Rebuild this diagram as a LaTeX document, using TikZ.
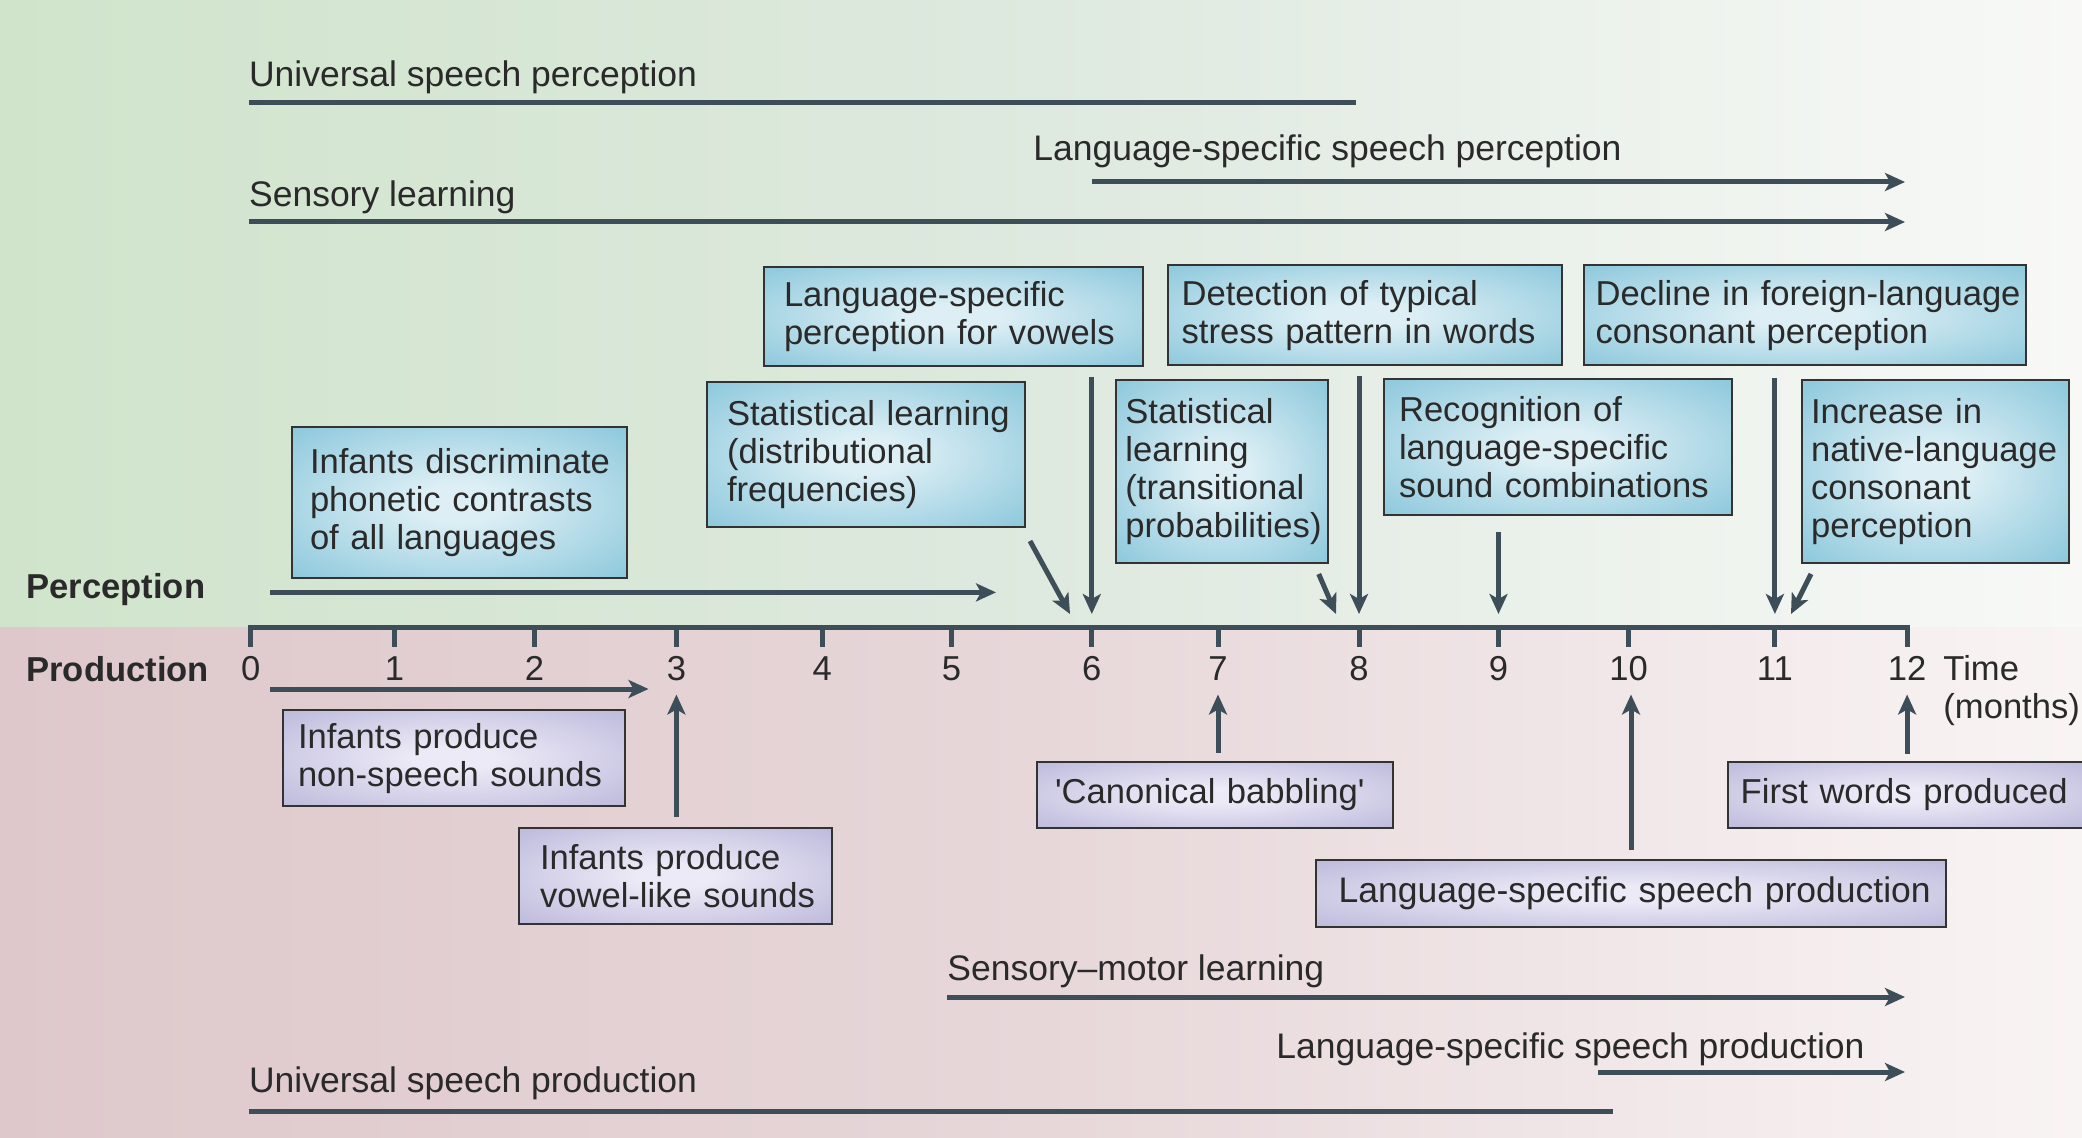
\documentclass[tikz,border=0pt]{standalone}
\usepackage{fontspec}
\setmainfont{Liberation Sans}
\usetikzlibrary{arrows.meta,calc}
\definecolor{ln}{HTML}{3E4E58}
\definecolor{txt}{HTML}{2A2A2A}
\definecolor{boxedge}{HTML}{333333}
\definecolor{bIn}{HTML}{DDEFF5}
\definecolor{bOut}{HTML}{80C2D8}
\definecolor{pIn}{HTML}{ECEAF6}
\definecolor{pOut}{HTML}{B6B2D8}
\definecolor{gL}{HTML}{D0E4CB}
\definecolor{gM}{HTML}{DEE9DF}
\definecolor{gR}{HTML}{F8F9F7}
\definecolor{rL}{HTML}{DEC8CB}
\definecolor{rM}{HTML}{E7D7D9}
\definecolor{rR}{HTML}{F9F4F4}
\pgfdeclareradialshading{blueshade}{\pgfpoint{0bp}{0bp}}{color(0bp)=(bIn); color(6bp)=(bIn); color(40bp)=(bOut); color(50bp)=(bOut)}
\pgfdeclareradialshading{purpleshade}{\pgfpoint{0bp}{0bp}}{color(0bp)=(pIn); color(6bp)=(pIn); color(40bp)=(pOut); color(50bp)=(pOut)}
\newcommand{\tline}[1]{\mbox{#1}}
\begin{document}
\begin{tikzpicture}[x=0.5pt,y=-0.5pt,
  every node/.style={text=txt},
  font=\fontsize{17.3}{19}\selectfont,
  box/.style={draw=boxedge, line width=1pt, shade, align=left, inner ysep=0pt},
  bluebox/.style={box, shading=blueshade},
  purplebox/.style={box, shading=purpleshade},
  lbl/.style={anchor=base west, inner sep=0pt},
  spanlbl/.style={lbl, font=\fontsize{17.75}{19}\selectfont},
  boldlbl/.style={lbl, font=\fontsize{17.3}{19}\selectfont\bfseries},
  ticklbl/.style={anchor=base, inner sep=0pt},
  bar/.style={draw=ln, line width=2.5pt},
  arr/.style={bar, -{Stealth[length=10pt,width=9pt,inset=2.5pt]}},
]
\useasboundingbox (0,0) rectangle (2082,1138);
% backgrounds
\shade[left color=gL, right color=gR, middle color=gM] (0,0) rectangle (2082,627);
\shade[left color=rL, right color=rR, middle color=rM] (0,627) rectangle (2082,1138);

% time axis
\foreach \n/\xx in {0/250.7,1/394.6,2/534.5,3/676.4,4/822.3,5/951.6,6/1091.8,7/1218,8/1359,9/1498.5,10/1628.7,11/1774.9,12/1907.1}{
  \coordinate (t\n) at (\xx,627);
  \node[ticklbl] (n\n) at (\xx,680) {\n};
}
\draw[bar, line join=miter] ($(t0)+(0,20)$) -- (t0) -- (t12) -- ($(t12)+(0,20)$);
\foreach \n in {1,...,11} \draw[bar] (t\n) -- ++(0,20);
\node[lbl] (time) at (1943,680) {Time};
\node[lbl] (months) at (1943,718) {(months)};

% side labels
\node[boldlbl] (perc) at (26,598) {Perception};
\node[boldlbl] (prod) at (26,681.7) {Production};
\coordinate (pa1) at (270,592.4);
\coordinate (pa2) at (996,592.4);
\draw[arr] (pa1) -- (pa2);
\coordinate (pr1) at (270,689);
\coordinate (pr2) at (648.5,689);
\draw[arr] (pr1) -- (pr2);

% top span lines
\node[spanlbl] (usp) at (248.7,87) {Universal speech perception};
\coordinate (usp1) at (248.7,103); \coordinate (usp2) at (1355.6,103);
\draw[bar] (usp1) -- (usp2);
\node[spanlbl] (lssp) at (1033,160.7) {Language-specific speech perception};
\coordinate (lssp1) at (1091.8,182); \coordinate (lssp2) at (1905,182);
\draw[arr] (lssp1) -- (lssp2);
\node[spanlbl] (sl) at (248.7,206.7) {Sensory learning};
\coordinate (sl1) at (248.7,222); \coordinate (sl2) at (1905,222);
\draw[arr] (sl1) -- (sl2);

% bottom span lines
\node[spanlbl] (sml) at (947,980) {Sensory\textendash motor learning};
\coordinate (sml1) at (947,997); \coordinate (sml2) at (1905,997);
\draw[arr] (sml1) -- (sml2);
\node[spanlbl] (lsspr) at (1276,1058) {Language-specific speech production};
\coordinate (lsspr1) at (1598,1072); \coordinate (lsspr2) at (1905,1072);
\draw[arr] (lsspr1) -- (lsspr2);
\node[spanlbl] (uspr) at (248.7,1092.6) {Universal speech production};
\coordinate (uspr1) at (248.7,1111); \coordinate (uspr2) at (1612.7,1111);
\draw[bar] (uspr1) -- (uspr2);

% perception boxes
\node[bluebox, minimum width=189.5pt, minimum height=49.5pt, inner xsep=10pt, text width=169.5pt] (A) at (953.5,316.5)
  {\tline{Language-specific}\\\tline{perception for vowels}};
\node[bluebox, minimum width=158.75pt, minimum height=72.5pt, inner xsep=10pt, text width=138.75pt] (B) at (865.75,454.5)
  {\tline{Statistical learning}\\\tline{(distributional}\\\tline{frequencies)}};
\node[bluebox, minimum width=167.5pt, minimum height=75.25pt, inner xsep=9pt, text width=149.5pt] (C) at (459.5,502.75)
  {\tline{Infants discriminate}\\\tline{phonetic contrasts}\\\tline{of all languages}};
\node[bluebox, minimum width=197.2pt, minimum height=50.25pt, inner xsep=7pt, text width=183.2pt] (D) at (1364.8,315.25)
  {\tline{Detection of typical}\\\tline{stress pattern in words}};
\node[bluebox, minimum width=221.25pt, minimum height=50.25pt, inner xsep=6pt, text width=209.25pt] (E) at (1804.75,315.25)
  {\tline{Decline in foreign-language}\\\tline{consonant perception}};
\node[bluebox, minimum width=106pt, minimum height=91.3pt, inner xsep=4.5pt, text width=97pt] (F) at (1222.4,471.3)
  {\tline{Statistical}\\\tline{learning}\\\tline{(transitional}\\\tline{probabilities)}};
\node[bluebox, minimum width=173.85pt, minimum height=68.25pt, inner xsep=7.5pt, text width=158.85pt] (G) at (1557.85,447.25)
  {\tline{Recognition of}\\\tline{language-specific}\\\tline{sound combinations}};
\node[bluebox, minimum width=133.5pt, minimum height=91.3pt, inner xsep=4.5pt, text width=124.5pt] (H) at (1935.5,471.3)
  {\tline{Increase in}\\\tline{native-language}\\\tline{consonant}\\\tline{perception}};

% production boxes
\node[purplebox, minimum width=170.85pt, minimum height=47.9pt, inner xsep=7.5pt, text width=155.85pt] (P1) at (453.85,758.3)
  {\tline{Infants produce}\\\tline{non-speech sounds}};
\node[purplebox, minimum width=156.3pt, minimum height=48pt, inner xsep=10.5pt, text width=135.3pt] (P2) at (675.3,876)
  {\tline{Infants produce}\\\tline{vowel-like sounds}};
\node[purplebox, minimum width=177.9pt, minimum height=33pt, inner xsep=9pt, text width=159.9pt] (P3) at (1214.9,795)
  {\tline{\textquotesingle Canonical babbling\textquotesingle}};
\node[purplebox, minimum width=178.15pt, minimum height=33pt, inner xsep=6.5pt, text width=165.15pt] (P4) at (1905.85,795)
  {\tline{First words produced}};
\node[purplebox, minimum width=315.3pt, minimum height=33.3pt, inner xsep=11.5pt, text width=292.3pt, font=\fontsize{17.75}{19}\selectfont] (P5) at (1631,893.7)
  {\tline{Language-specific speech production}};

% perception arrows to the axis
\draw[arr] ($(A.south -| t6)+(0,10)$) -- ($(t6)+(0,-13)$);
\draw[arr] ($(B.south east)+(4.5,13)$) -- (1070,614);
\draw[arr] ($(D.south -| t8)+(0,10)$) -- ($(t8)+(0,-13)$);
\draw[arr] ($(F.south east)+(-10.7,10.4)$) -- (1336,614);
\draw[arr] ($(G.south -| t9)+(0,15.5)$) -- ($(t9)+(0,-13)$);
\draw[arr] ($(E.south -| t11)+(0,11.5)$) -- ($(t11)+(0,-13)$);
\draw[arr] ($(H.south west)+(10,10.4)$) -- (1791,614);

% production arrows to the axis
\draw[arr] ($(P2.north -| t3)+(0,-10)$) -- ($(t3)+(0,67.5)$);
\draw[arr] ($(P3.north -| t7)+(0,-8.5)$) -- ($(t7)+(0,67.5)$);
\draw[arr] ($(P5.north)+(0,-9.4)$) -- ($(P5.north |- t10)+(0,67.5)$);
\draw[arr] ($(P4.north -| t12)+(0,-7)$) -- ($(t12)+(0,67.5)$);
\end{tikzpicture}
\end{document}
